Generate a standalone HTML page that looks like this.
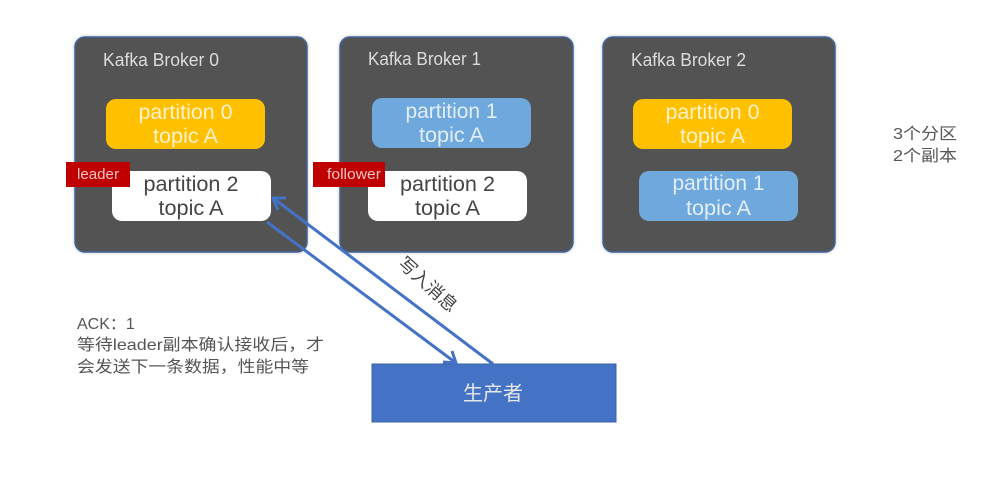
<!DOCTYPE html>
<html>
<head>
<meta charset="utf-8">
<style>
html,body{margin:0;padding:0;background:#fff;width:988px;height:480px;overflow:hidden}
svg{display:block}
text{font-family:"Liberation Sans","Noto Sans CJK SC",sans-serif}
.p{font-size:21px;fill:#fff;text-anchor:middle}
.d{font-size:21px;fill:#454545;text-anchor:middle}
.k{font-size:18px;fill:#dcdcdc}
.l{font-size:14.500px;fill:#eec4c4;text-anchor:middle}
.a{font-size:16px;fill:#555}
</style>
</head>
<body>
<svg width="988" height="480" viewBox="0 0 988 480" xmlns="http://www.w3.org/2000/svg">
<defs>
<filter id="b" x="-5%" y="-5%" width="110%" height="110%"><feGaussianBlur stdDeviation="0.3"/></filter>
<filter id="s" x="-5%" y="-5%" width="110%" height="110%"><feDropShadow dx="0" dy="0" stdDeviation="1.5" flood-color="#000" flood-opacity=".25"/></filter>
</defs>
<rect width="988" height="480" fill="#fff"/>
<g filter="url(#s)" fill="#525252" stroke="#3f6299" stroke-width="1.5">
<rect x="75" y="37" width="232" height="215" rx="10"/>
<rect x="340" y="37" width="233" height="215" rx="10"/>
<rect x="603" y="37" width="232" height="215" rx="10"/>
</g>

<rect x="106" y="99" width="159" height="50" rx="10" fill="#ffc000"/>
<rect x="112" y="171" width="159" height="50" rx="10" fill="#fff"/>
<rect x="372" y="98" width="159" height="50" rx="10" fill="#6fa8dc"/>
<rect x="368" y="171" width="159" height="50" rx="10" fill="#fff"/>
<rect x="633" y="99" width="159" height="50" rx="10" fill="#ffc000"/>
<rect x="639" y="171" width="159" height="50" rx="10" fill="#6fa8dc"/>
<rect x="66" y="162" width="64" height="25" fill="#c00000"/>
<rect x="313" y="162" width="72" height="25" fill="#c00000"/>
<rect x="372" y="364" width="244" height="58" fill="#4472c4" stroke="#3a62a8" stroke-width="1"/>

<g stroke="#4472c4" stroke-width="3" fill="none">
<path d="M493 364 L273 198"/>
<path d="M286 198 L273 198 L278 210"/>
<path d="M267 222 L456 363"/>
<path d="M443 362 L456 363 L452 351"/>
</g>

<g filter="url(#b)">
<text class="k" x="103" y="66" textLength="116" lengthAdjust="spacingAndGlyphs">Kafka Broker 0</text>
<text class="k" x="368" y="65" textLength="113" lengthAdjust="spacingAndGlyphs">Kafka Broker 1</text>
<text class="k" x="631" y="66" textLength="115" lengthAdjust="spacingAndGlyphs">Kafka Broker 2</text>

<text class="p" x="185.500" y="119" textLength="94" lengthAdjust="spacingAndGlyphs" fill-opacity=".8">partition 0</text>
<text class="p" x="185.500" y="143" textLength="65" lengthAdjust="spacingAndGlyphs" fill-opacity=".8">topic A</text>

<text class="d" x="191" y="191" textLength="95" lengthAdjust="spacingAndGlyphs">partition 2</text>
<text class="d" x="191" y="215" textLength="65" lengthAdjust="spacingAndGlyphs">topic A</text>

<text class="p" x="451.500" y="118" textLength="92" lengthAdjust="spacingAndGlyphs" fill-opacity=".8">partition 1</text>
<text class="p" x="451.500" y="142" textLength="65" lengthAdjust="spacingAndGlyphs" fill-opacity=".8">topic A</text>

<text class="d" x="447.500" y="191" textLength="95" lengthAdjust="spacingAndGlyphs">partition 2</text>
<text class="d" x="447.500" y="215" textLength="65" lengthAdjust="spacingAndGlyphs">topic A</text>

<text class="p" x="712.500" y="119" textLength="94" lengthAdjust="spacingAndGlyphs" fill-opacity=".8">partition 0</text>
<text class="p" x="712.500" y="143" textLength="65" lengthAdjust="spacingAndGlyphs" fill-opacity=".8">topic A</text>

<text class="p" x="718.500" y="190" textLength="92" lengthAdjust="spacingAndGlyphs" fill-opacity=".8">partition 1</text>
<text class="p" x="718.500" y="215" textLength="65" lengthAdjust="spacingAndGlyphs" fill-opacity=".8">topic A</text>

<text class="l" x="98" y="179" textLength="42" lengthAdjust="spacingAndGlyphs">leader</text>
<text class="l" x="354" y="179" textLength="54" lengthAdjust="spacingAndGlyphs">follower</text>

<text x="493" y="400" font-size="20" fill="#e8e8e8" text-anchor="middle">生产者</text>

<text transform="translate(397,265) rotate(42)" font-size="18" fill="#454545" textLength="72">写入消息</text>

<text class="a" x="893" y="139" textLength="64" lengthAdjust="spacingAndGlyphs">3个分区</text>
<text class="a" x="893" y="161" textLength="64" lengthAdjust="spacingAndGlyphs">2个副本</text>

<text class="a" x="77" y="329">ACK：1</text>
<text class="a" x="77" y="350" textLength="247" lengthAdjust="spacingAndGlyphs">等待leader副本确认接收后，才</text>
<text class="a" x="77" y="372" textLength="232" lengthAdjust="spacingAndGlyphs">会发送下一条数据，性能中等</text>
</g>
</svg>
</body>
</html>
